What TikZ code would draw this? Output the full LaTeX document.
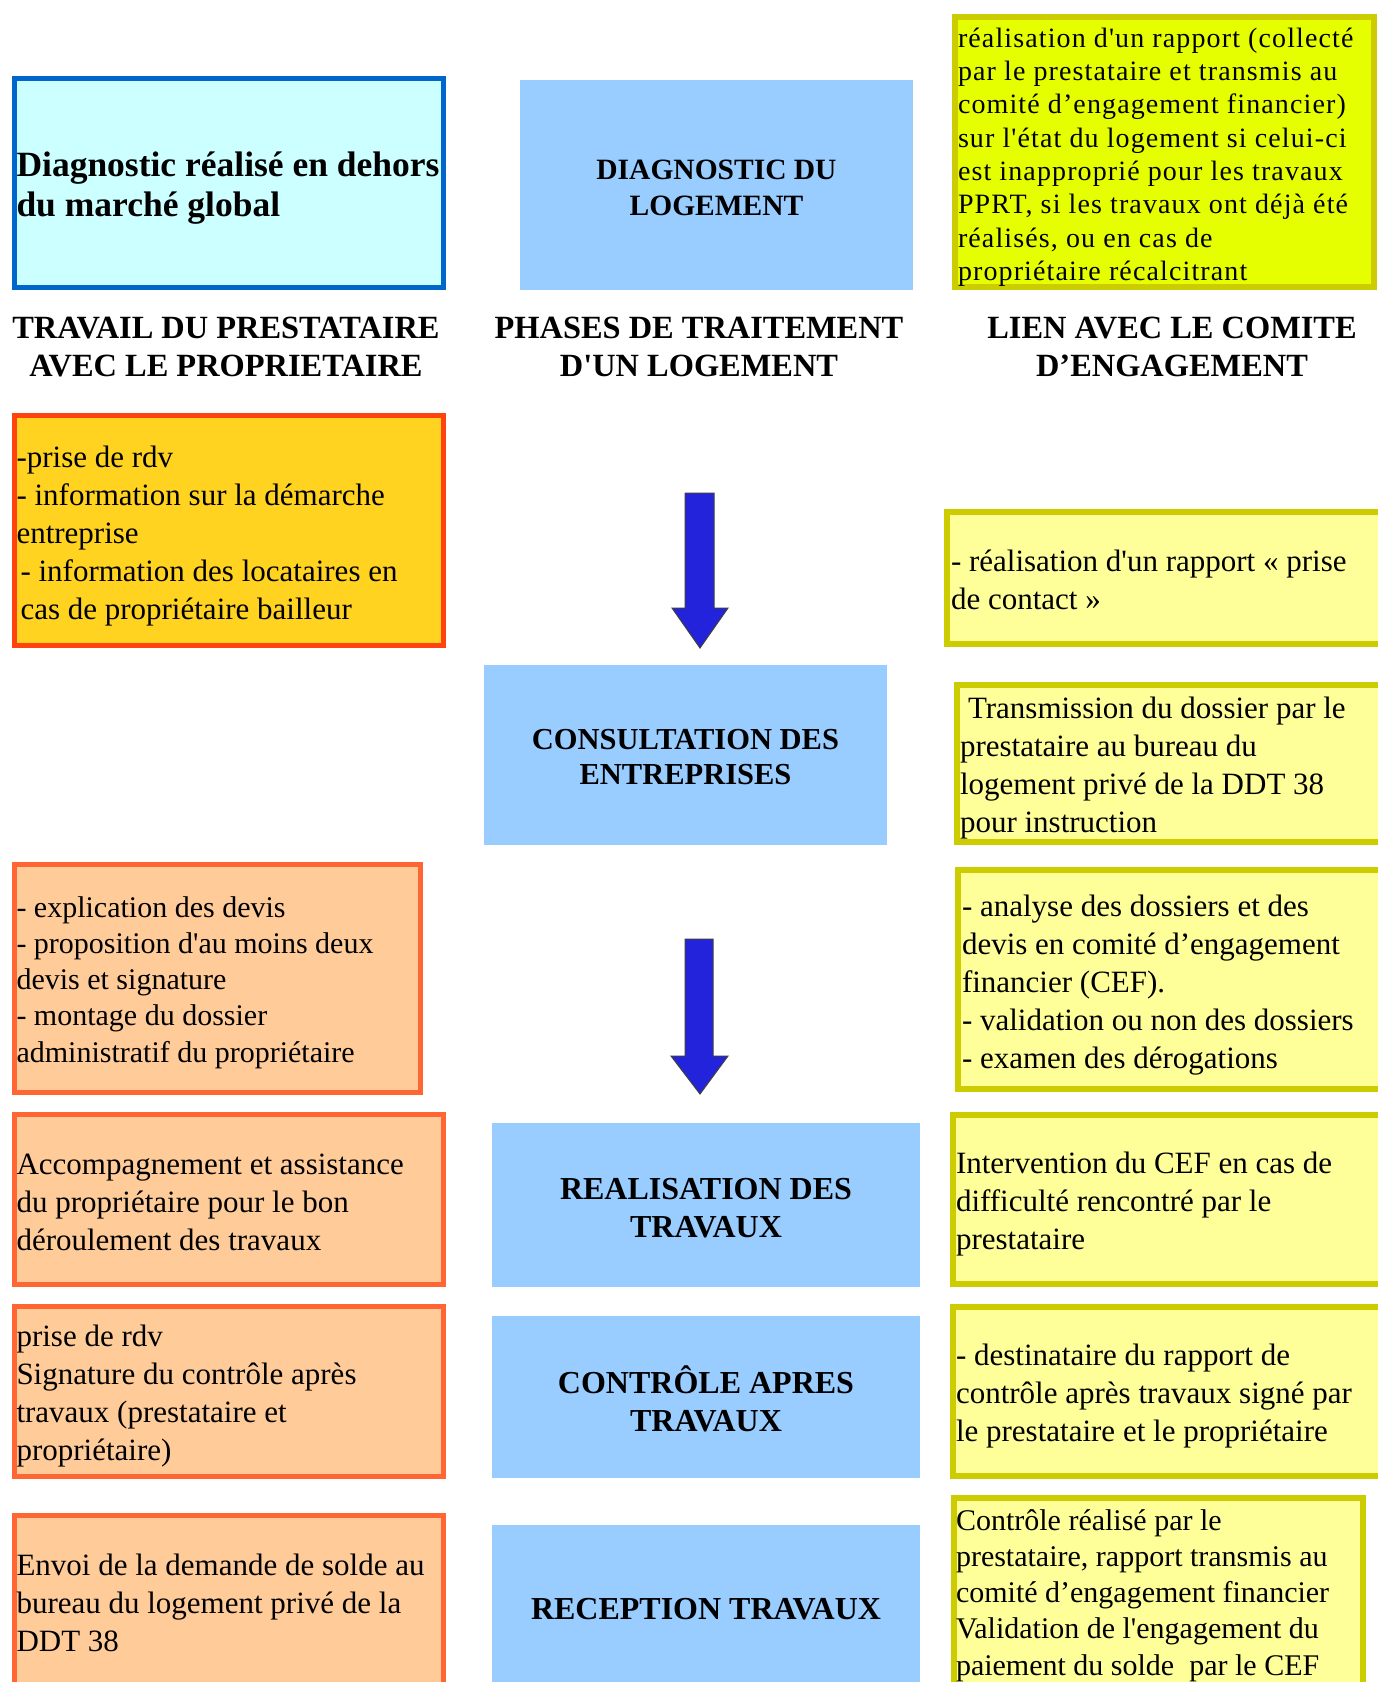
\documentclass[tikz,border=0pt]{standalone}
\usepackage{fontspec}
\setmainfont{Liberation Serif}[Ligatures=TeXOff]
\newfontfamily\spacedfont{Liberation Serif}[LetterSpace=4,Ligatures=TeXOff]
\definecolor{cyanfill}{HTML}{CCFFFF}
\definecolor{cyanborder}{HTML}{0066CC}
\definecolor{phase}{HTML}{99CCFF}
\definecolor{limefill}{HTML}{E6FF00}
\definecolor{olive}{HTML}{CCCC00}
\definecolor{paleyellow}{HTML}{FFFF99}
\definecolor{goldfill}{HTML}{FFD320}
\definecolor{redorange}{HTML}{FF420E}
\definecolor{peach}{HTML}{FFCC99}
\definecolor{orangeborder}{HTML}{FF6633}
\definecolor{arrowblue}{HTML}{2323DC}
\begin{document}
\begin{tikzpicture}[x=1pt,y=-1pt,
  boxbase/.style={inner sep=0, outer sep=0, minimum width=#1},
  cyanbox/.style={boxbase=#1, draw=cyanborder, fill=cyanfill, line width=5pt},
  phasebox/.style={boxbase=#1, fill=phase},
  limebox/.style={boxbase=#1, draw=olive, fill=limefill, line width=6pt},
  goldbox/.style={boxbase=#1, draw=redorange, fill=goldfill, line width=5pt},
  peachbox/.style={boxbase=#1, draw=orangeborder, fill=peach, line width=5pt},
  yelbox/.style={boxbase=#1, draw=olive, fill=paleyellow, line width=6pt},
  txt/.style={inner sep=0, outer sep=0, align=left, anchor=west, font=\fontsize{31}{38}\selectfont},
  smalltxt/.style={inner sep=0, outer sep=0, align=left, anchor=west, font=\fontsize{30}{36.2}\selectfont},
  limetxt/.style={inner sep=0, outer sep=0, align=left, anchor=west, font=\spacedfont\fontsize{28}{33.3}\selectfont},
  boldtxt/.style={inner sep=0, outer sep=0, align=left, anchor=west, font=\bfseries\fontsize{35.5}{40}\selectfont},
  headtxt/.style={inner sep=0, outer sep=0, align=center, font=\bfseries\fontsize{32.4}{38.5}\selectfont},
  phasetxt/.style={inner sep=0, outer sep=0, align=center, font=\bfseries\fontsize{29.5}{35.4}\selectfont},
  phasetxtb/.style={inner sep=0, outer sep=0, align=center, font=\bfseries\fontsize{32}{37.5}\selectfont},
  bigarrow/.style={fill=arrowblue, draw=black!75, line width=1pt}
]
\useasboundingbox[fill=white] (0,0) rectangle (1377,1682);

% ---------- top row ----------
\node[cyanbox=429pt, minimum height=209pt] (b1) at (229,183) {};
\node[boldtxt] (b1t) at ([xshift=2pt,yshift=-5pt]b1.west) {Diagnostic réalisé en dehors\\du marché global};

\node[phasebox=393pt, minimum height=210pt] (p1) at (716.5,185) {};
\node[phasetxt] (p1t) at ([yshift=-3pt]p1.center) {DIAGNOSTIC DU\\LOGEMENT};

\node[limebox=419pt, minimum height=270pt] (tr) at (1164.5,152) {};
\node[limetxt] (trt) at ([xshift=3pt,yshift=-5pt]tr.west) {réalisation d'un rapport (collecté\\par le prestataire et transmis au\\comité d’engagement financier)\\sur l'état du logement si celui-ci\\est inapproprié pour les travaux\\PPRT, si les travaux ont déjà été\\réalisés, ou en cas de\\propriétaire récalcitrant};

% ---------- headers ----------
\node[headtxt] (h1) at (226,347) {TRAVAIL DU PRESTATAIRE\\AVEC LE PROPRIETAIRE};
\node[headtxt] (h2) at (699,347) {PHASES DE TRAITEMENT\\D'UN LOGEMENT};
\node[headtxt] (h3) at (1172,347) {LIEN AVEC LE COMITE\\D’ENGAGEMENT};

% ---------- second row ----------
\node[goldbox=429pt, minimum height=230pt] (o1) at (229,530.5) {};
\node[txt] (o1t) at ([xshift=2pt,yshift=-6pt]o1.west) {-prise de rdv\\- information sur la démarche\\entreprise\\\hspace*{4pt}- information des locataires en\\\hspace*{4pt}cas de propriétaire bailleur};

\node[yelbox=440pt, minimum height=132pt] (r1) at (1167,578) {};
\node[txt] (r1t) at ([xshift=4pt,yshift=-2pt]r1.west) {- réalisation d'un rapport « prise\\de contact »};

\draw[bigarrow] (685,493) -- (714,493) -- (714,608) -- (728,608) -- (700,648) -- (672,608) -- (685,608) -- cycle;

% ---------- consultation ----------
\node[phasebox=403pt, minimum height=180pt] (p2) at (685.5,755) {};
\node[phasetxt, font=\bfseries\fontsize{30.5}{35.4}\selectfont] (p2t) at ([yshift=-2pt]p2.center) {CONSULTATION DES\\ENTREPRISES};

\node[yelbox=430pt, minimum height=157pt] (r2) at (1172,763.5) {};
\node[txt] (r2t) at ([xshift=3pt,yshift=-5pt]r2.west) {\hspace*{8pt}Transmission du dossier par le\\prestataire au bureau du\\logement privé de la DDT 38\\pour instruction};

% ---------- devis ----------
\node[peachbox=406pt, minimum height=228pt] (o2) at (217.5,978.5) {};
\node[smalltxt] (o2t) at ([xshift=2pt,yshift=-4pt]o2.west) {- explication des devis\\- proposition d'au moins deux\\devis et signature\\- montage du dossier\\administratif du propriétaire};

\draw[bigarrow] (685,939) -- (713,939) -- (713,1056) -- (728,1056) -- (700,1094) -- (671,1056) -- (685,1056) -- cycle;

\node[yelbox=429pt, minimum height=219pt] (r3) at (1172.5,979.5) {};
\node[txt] (r3t) at ([xshift=4pt,yshift=-6pt]r3.west) {- analyse des dossiers et des\\devis en comité d’engagement\\financier (CEF).\\- validation ou non des dossiers\\- examen des dérogations};

% ---------- realisation ----------
\node[peachbox=429pt, minimum height=170pt] (o3) at (229,1199.5) {};
\node[txt] (o3t) at ([xshift=2pt,yshift=-3pt]o3.west) {Accompagnement et assistance\\du propriétaire pour le bon\\déroulement des travaux};

\node[phasebox=428pt, minimum height=164pt] (p3) at (706,1205) {};
\node[phasetxtb] (p3t) at ([yshift=-3pt]p3.center) {REALISATION DES\\TRAVAUX};

\node[yelbox=434pt, minimum height=169pt] (r4) at (1170,1199.5) {};
\node[txt] (r4t) at ([xshift=3pt,yshift=-5pt]r4.west) {Intervention du CEF en cas de\\difficulté rencontré par le\\prestataire};

% ---------- controle ----------
\node[peachbox=429pt, minimum height=170pt] (o4) at (229,1391.5) {};
\node[txt] (o4t) at ([xshift=2pt,yshift=-5pt]o4.west) {prise de rdv\\Signature du contrôle après\\travaux (prestataire et\\propriétaire)};

\node[phasebox=428pt, minimum height=162pt] (p4) at (706,1397) {};
\node[phasetxtb] (p4t) at ([yshift=-2pt]p4.center) {CONTRÔLE APRES\\TRAVAUX};

\node[yelbox=434pt, minimum height=169pt] (r5) at (1170,1391.5) {};
\node[txt] (r5t) at ([xshift=3pt,yshift=-5pt]r5.west) {- destinataire du rapport de\\contrôle après travaux signé par\\le prestataire et le propriétaire};

% ---------- reception ----------
\node[peachbox=429pt, minimum height=174pt] (o5) at (229,1602.5) {};
\node[txt] (o5t) at ([xshift=2pt]o5.west) {Envoi de la demande de solde au\\bureau du logement privé de la\\DDT 38};

\node[phasebox=428pt, minimum height=168pt] (p5) at (706,1609) {};
\node[phasetxtb] (p5t) at (p5.center) {RECEPTION TRAVAUX};

\node[yelbox=409pt, minimum height=191pt] (r6) at (1158.5,1593.5) {};
\node[smalltxt] (r6t) at ([xshift=2pt,yshift=-2pt]r6.west) {Contrôle réalisé par le\\prestataire, rapport transmis au\\comité d’engagement financier\\Validation de l'engagement du\\paiement du solde\ \ par le CEF};
\end{tikzpicture}
\end{document}
